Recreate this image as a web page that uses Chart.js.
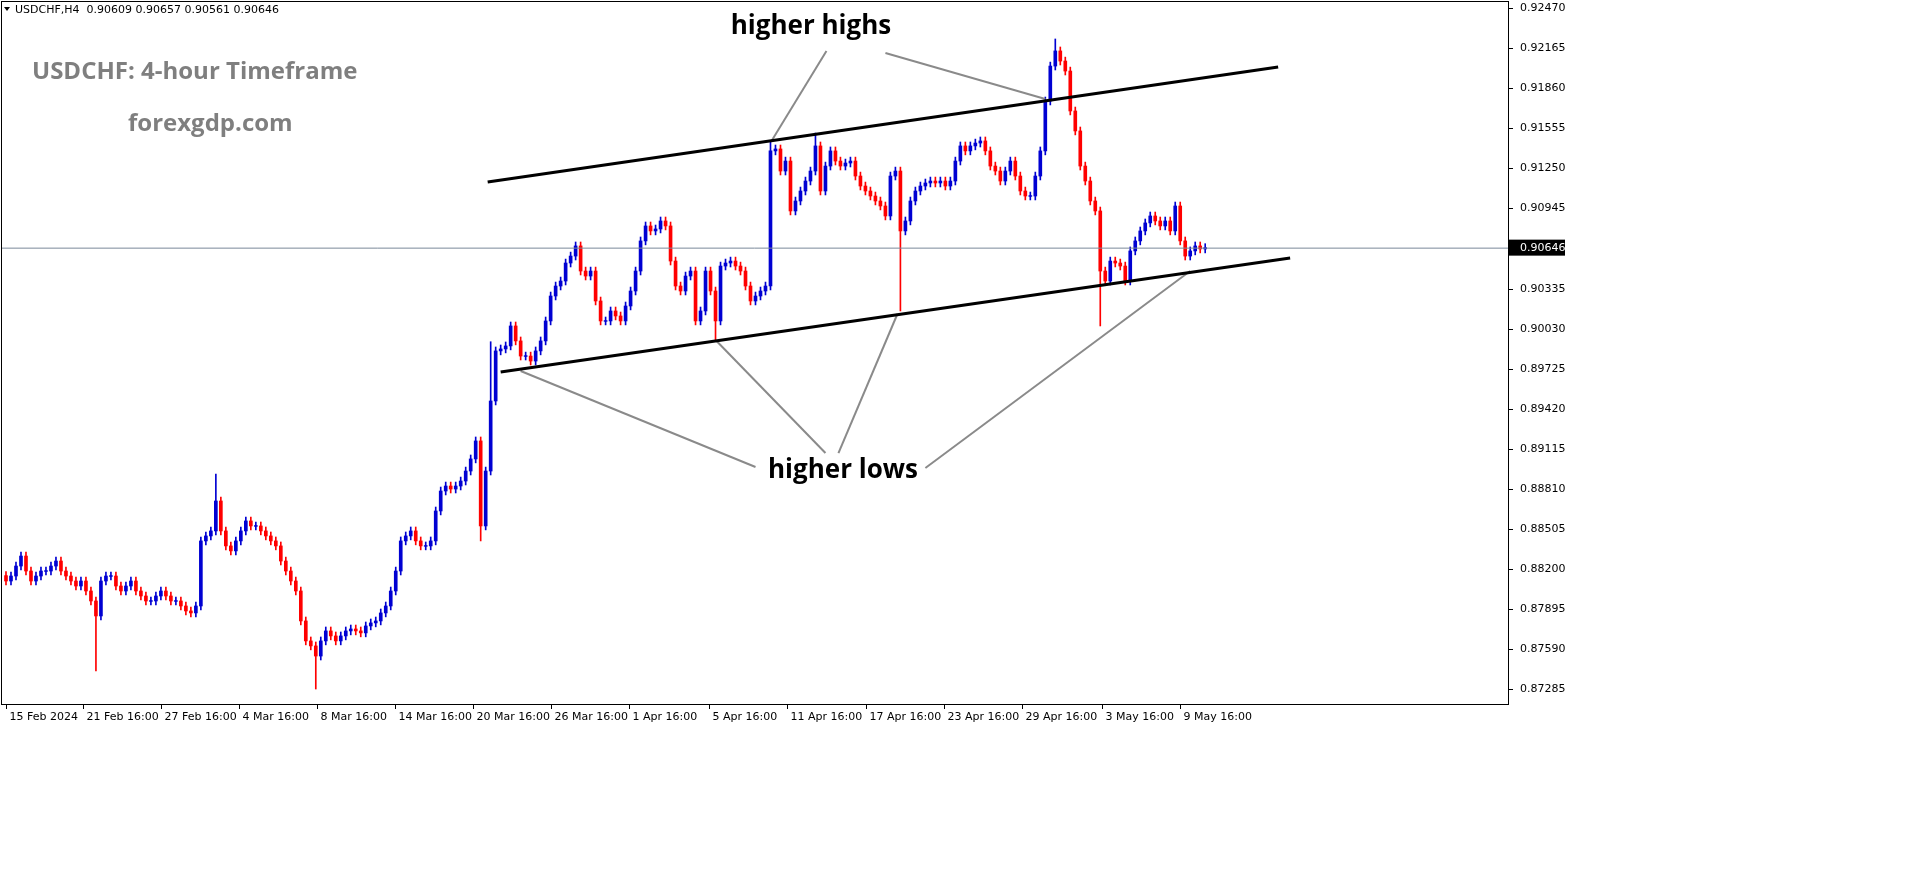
<!DOCTYPE html>
<html><head><meta charset="utf-8">
<script src="https://cdn.jsdelivr.net/npm/chart.js@4"></script>
<style>html,body{margin:0;padding:0;background:#fff;}#wrap{width:1914px;height:884px;position:relative;}</style>
</head><body><div id="wrap"><canvas id="c" width="1914" height="884"></canvas></div>
<script>
const closes=[0.88109,0.88147,0.88223,0.88299,0.88185,0.88109,0.88147,0.88185,0.88185,0.88223,0.88261,0.88185,0.88147,0.88109,0.88071,0.88109,0.88033,0.87957,0.87843,0.88109,0.88147,0.88147,0.88071,0.88033,0.88071,0.88109,0.88033,0.87995,0.87957,0.87957,0.87995,0.88033,0.87995,0.87957,0.87957,0.87919,0.87881,0.87866,0.87919,0.88414,0.88452,0.88490,0.88718,0.88490,0.88376,0.88338,0.88414,0.88490,0.88566,0.88528,0.88528,0.88490,0.88452,0.88414,0.88376,0.88261,0.88185,0.88109,0.88033,0.87805,0.87653,0.87615,0.87538,0.87653,0.87729,0.87691,0.87653,0.87691,0.87729,0.87744,0.87729,0.87714,0.87767,0.87790,0.87805,0.87866,0.87919,0.88033,0.88185,0.88414,0.88452,0.88490,0.88414,0.88376,0.88376,0.88414,0.88642,0.88794,0.88832,0.88809,0.88832,0.88870,0.88946,0.89038,0.89175,0.88528,0.88946,0.89479,0.89860,0.89875,0.89898,0.90050,0.89936,0.89821,0.89821,0.89783,0.89860,0.89936,0.90088,0.90278,0.90354,0.90392,0.90529,0.90582,0.90659,0.90468,0.90430,0.90468,0.90240,0.90088,0.90088,0.90164,0.90126,0.90088,0.90202,0.90316,0.90468,0.90697,0.90811,0.90773,0.90788,0.90849,0.90811,0.90544,0.90354,0.90316,0.90430,0.90468,0.90088,0.90164,0.90468,0.90316,0.90088,0.90506,0.90529,0.90544,0.90506,0.90468,0.90354,0.90240,0.90278,0.90316,0.90354,0.91382,0.91397,0.91229,0.91305,0.90925,0.91001,0.91077,0.91153,0.91229,0.91420,0.91077,0.91267,0.91382,0.91305,0.91267,0.91290,0.91305,0.91191,0.91115,0.91077,0.91039,0.91001,0.90963,0.90887,0.91191,0.91229,0.90773,0.90849,0.91001,0.91077,0.91115,0.91138,0.91153,0.91138,0.91153,0.91115,0.91153,0.91305,0.91420,0.91382,0.91420,0.91442,0.91458,0.91382,0.91267,0.91229,0.91153,0.91229,0.91305,0.91191,0.91077,0.91039,0.91039,0.91191,0.91382,0.91762,0.92028,0.92143,0.92066,0.91990,0.91686,0.91534,0.91267,0.91153,0.91001,0.90925,0.90468,0.90392,0.90544,0.90529,0.90506,0.90392,0.90621,0.90697,0.90773,0.90834,0.90887,0.90849,0.90811,0.90849,0.90773,0.90963,0.90697,0.90582,0.90621,0.90659,0.90636,0.90646];
const firstOpen=0.88150;
// notable wick extremes: [candle index, high, low]
const wickExtremes=[[18,null,0.87424],[42,0.88923,null],[62,null,0.87287],[95,null,0.88414],[97,0.89930,null],[153,0.91458,null],[162,0.91518,null],[142,null,0.89936],[179,null,0.90164],[210,0.92234,null],[219,null,0.90050]];
const wickPad=0.00030;
const priceTicks=[0.92470,0.92165,0.91860,0.91555,0.91250,0.90945,0.90640,0.90335,0.90030,0.89725,0.89420,0.89115,0.88810,0.88505,0.88200,0.87895,0.87590,0.87285];
const dateLabels=["15 Feb 2024","21 Feb 16:00","27 Feb 16:00","4 Mar 16:00","8 Mar 16:00","14 Mar 16:00","20 Mar 16:00","26 Mar 16:00","1 Apr 16:00","5 Apr 16:00","11 Apr 16:00","17 Apr 16:00","23 Apr 16:00","29 Apr 16:00","3 May 16:00","9 May 16:00"];
const dateIdx=[0,15.4,31,46.6,62.2,77.8,93.4,109,124.6,140.6,156.4,172.2,187.8,203.4,219.4,235];
const lastPrice=0.90646;
const channelLines=[[[96.4,0.91146],[254.6,0.92021]],[[99,0.89700],[257,0.90567]]];
const pointerLines=[[[164.2,0.92143],[153.2,0.91458]],[[176,0.92127],[208,0.91777]],[[150,0.88977],[103,0.89707]],[[164,0.89083],[142.2,0.89936]],[[166.6,0.89083],[178.4,0.90141]],[[184,0.88969],[237,0.90468]]];

const bodies=[],wicks=[],colors=[];
let prev=firstOpen;
closes.forEach((c,i)=>{
  const o=prev; let hi=Math.max(o,c)+wickPad, lo=Math.min(o,c)-wickPad;
  wickExtremes.forEach(w=>{if(w[0]===i){if(w[1]!==null)hi=w[1];if(w[2]!==null)lo=w[2];}});
  let b=[o,c]; if(Math.abs(o-c)<0.00004) b=[o-0.00003,o+0.00003];
  bodies.push({x:i,y:b}); wicks.push({x:i,y:[lo,hi]});
  colors.push(c>=o?'#0000d2':'#ff0000'); prev=c;
});
const overlay={id:'overlay',
 afterDatasetsDraw(ch){
  const {ctx,scales:{x,y},chartArea:a}=ch;
  ctx.save();
  ctx.beginPath();ctx.rect(a.left,a.top,a.right-a.left,a.bottom-a.top);ctx.clip();
  const ly=y.getPixelForValue(lastPrice);
  ctx.strokeStyle='#7a8899';ctx.lineWidth=1;ctx.beginPath();ctx.moveTo(a.left,ly+0.5);ctx.lineTo(a.right,ly+0.5);ctx.stroke();
  ctx.lineWidth=2;ctx.strokeStyle='#8a8a8a';
  pointerLines.forEach(l=>{ctx.beginPath();ctx.moveTo(x.getPixelForValue(l[0][0]),y.getPixelForValue(l[0][1]));ctx.lineTo(x.getPixelForValue(l[1][0]),y.getPixelForValue(l[1][1]));ctx.stroke();});
  ctx.lineWidth=3;ctx.strokeStyle='#000';
  channelLines.forEach(l=>{ctx.beginPath();ctx.moveTo(x.getPixelForValue(l[0][0]),y.getPixelForValue(l[0][1]));ctx.lineTo(x.getPixelForValue(l[1][0]),y.getPixelForValue(l[1][1]));ctx.stroke();});
  ctx.restore();
  ctx.save();
  ctx.fillStyle='#000';ctx.font='bold 26px "Open Sans"';ctx.textAlign='center';ctx.textBaseline='middle';
  ctx.fillText('higher highs',811,27);ctx.fillText('higher lows',843,471);
  ctx.fillStyle='#7f7f7f';ctx.font='bold 24px "Open Sans"';ctx.textAlign='left';
  ctx.fillText('USDCHF: 4-hour Timeframe',32,72);ctx.fillText('forexgdp.com',128,124);
  ctx.fillStyle='#000';ctx.font='11px "DejaVu Sans"';
  ctx.fillText('USDCHF,H4  0.90609 0.90657 0.90561 0.90646',15,10);
  ctx.beginPath();ctx.moveTo(4,7);ctx.lineTo(10,7);ctx.lineTo(7,11);ctx.closePath();ctx.fill();
  ctx.strokeStyle='#000';ctx.lineWidth=1;ctx.strokeRect(a.left+0.5,a.top+0.5,a.right-a.left,a.bottom-a.top);
  ctx.font='11px "DejaVu Sans"';ctx.textBaseline='top';
  dateIdx.forEach((d,i)=>{const px=Math.round(x.getPixelForValue(d))+0.5;ctx.beginPath();ctx.moveTo(px,a.bottom);ctx.lineTo(px,a.bottom+5);ctx.stroke();ctx.fillText(dateLabels[i],px+3,a.bottom+8);});
  ctx.textBaseline='middle';
  priceTicks.forEach(p=>{const py=Math.round(y.getPixelForValue(p))+0.5;ctx.beginPath();ctx.moveTo(a.right,py);ctx.lineTo(a.right+5,py);ctx.stroke();ctx.fillText(p.toFixed(5),a.right+12,py);});
  const ly2=y.getPixelForValue(lastPrice);
  ctx.fillStyle='#000';ctx.fillRect(a.right+1,ly2-8,56,16);ctx.fillStyle='#fff';ctx.fillText(lastPrice.toFixed(5),a.right+12,ly2);
  ctx.restore();
 }};
new Chart(document.getElementById('c'),{
 type:'bar',
 data:{datasets:[
  {data:wicks,backgroundColor:colors,barThickness:1,grouped:false,order:2},
  {data:bodies,backgroundColor:colors,barThickness:3,grouped:false,order:1}
 ]},
 options:{responsive:false,animation:false,
  layout:{padding:{left:1,top:1,right:406,bottom:180}},
  plugins:{legend:{display:false},tooltip:{enabled:false}},
  scales:{
   x:{type:'linear',min:-1,max:300.6,offset:false,display:false},
   y:{min:0.87173,max:0.92523,display:false}
  }},
 plugins:[overlay]
});
</script></body></html>
